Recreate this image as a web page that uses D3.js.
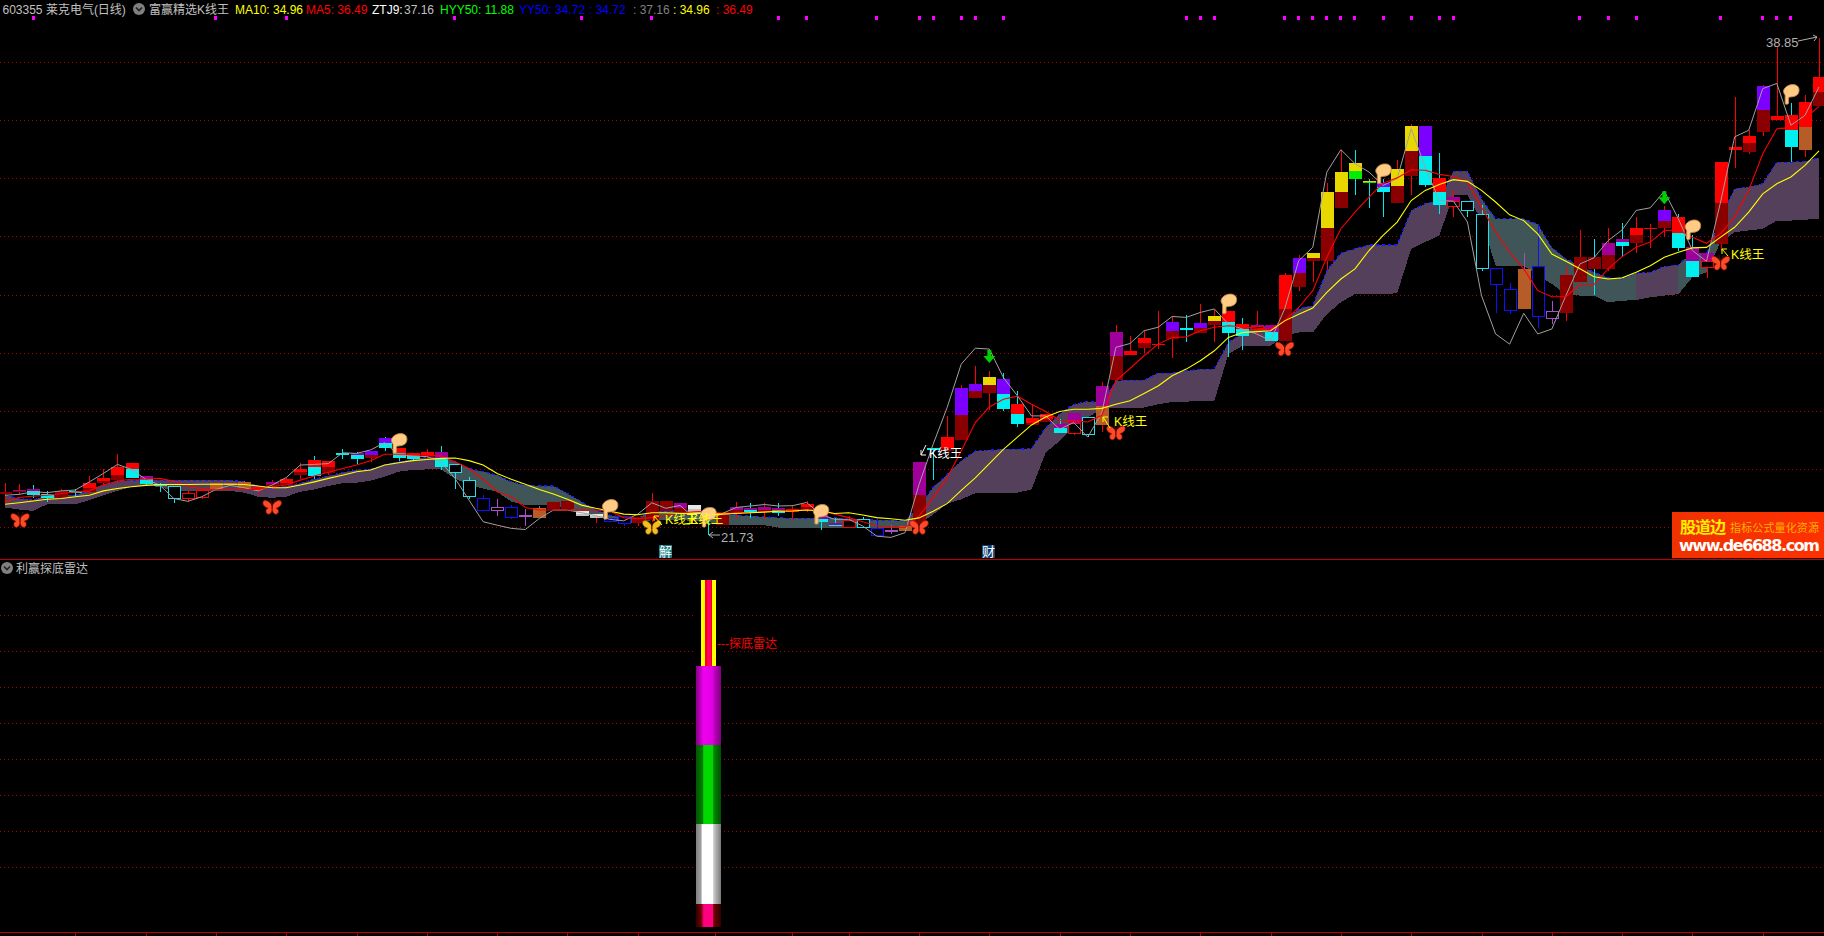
<!DOCTYPE html>
<html><head><meta charset="utf-8">
<script src="https://cdn.jsdelivr.net/npm/d3@7/dist/d3.min.js"></script>
<style>html,body{margin:0;padding:0;background:#000;overflow:hidden}svg{display:block}
text{font-family:"Liberation Sans","Noto Sans CJK SC",sans-serif}</style></head><body>
<svg id="c" width="1824" height="936"></svg>
<script>
// ---------- candle values, one entry per trading day ----------
const cTop=[23.21,23.29,23.32,23.15,23.26,23.26,23.52,23.69,24.09,24.22,
23.77,23.48,23.43,23.17,23.29,23.54,23.52,23.55,23.4,23.56,
23.67,24.01,24.32,24.29,24.55,24.55,24.63,25.08,24.74,24.55,
24.6,24.6,24.17,23.63,23.0,22.69,22.69,22.43,22.66,22.87,
22.91,22.57,22.46,22.34,22.39,22.37,22.91,22.91,22.83,22.77,
22.46,22.54,22.69,22.66,22.69,22.68,22.62,22.8,22.43,22.16,
22.25,22.28,22.0,21.91,22.05,24.25,24.75,25.11,26.8,26.94,
27.18,27.11,26.25,25.77,25.9,25.55,25.94,25.8,26.87,28.74,
28.08,28.52,28.32,29.08,28.86,29.05,29.29,29.46,29.01,28.98,
28.98,30.7,31.29,31.43,33.53,34.22,34.53,33.91,33.84,34.32,
35.8,35.8,34.01,33.36,33.22,32.8,30.94,30.22,30.91,31.01,
29.46,30.7,31.32,31.32,31.8,31.94,32.32,32.32,32.91,32.67,
31.64,31.43,34.56,35.08,35.46,37.18,36.15,36.18,36.63,37.49];
const cSplit=[23.19,23.25,23.25,23.15,23.2,23.23,23.36,23.61,23.8,24.02,
23.68,23.46,null,null,null,null,null,null,23.37,23.48,
23.52,23.9,24.09,24.07,24.53,24.51,24.48,24.9,24.55,24.46,
24.5,24.4,null,null,null,null,null,null,null,22.75,
22.77,22.48,22.4,null,null,22.26,22.55,22.74,22.68,22.62,
22.38,22.3,22.6,22.6,22.6,22.6,22.58,22.7,22.3,22.1,
null,null,null,null,null,23.11,24.72,24.75,25.87,26.7,
26.91,26.6,25.91,25.61,25.75,25.43,25.61,null,26.18,27.91,
28.0,28.36,28.3,28.77,28.82,28.86,29.11,29.08,28.84,28.94,
28.74,29.52,30.77,31.29,32.32,33.56,34.25,33.88,33.7,33.74,
34.94,34.8,33.56,33.25,null,null,null,null,null,null,
null,30.0,31.1,31.1,31.36,31.84,32.05,32.3,32.56,32.15,
31.18,31.18,33.15,35.03,35.22,36.36,36.08,35.67,35.77,36.98];
const cBot=[23.16,23.21,23.11,23.03,23.03,23.2,23.23,23.52,23.63,23.72,
23.49,23.45,23.02,22.99,23.06,23.34,23.46,23.36,23.34,23.43,
23.46,23.8,23.77,23.86,24.51,24.36,24.4,24.75,24.4,24.36,
24.44,24.07,23.89,23.08,22.57,22.57,22.34,22.39,22.34,22.63,
22.63,22.39,22.34,22.23,22.14,22.16,22.25,22.57,22.54,22.48,
22.31,22.08,22.52,22.51,22.54,22.51,22.54,22.62,22.2,22.05,
22.02,22.02,21.77,21.86,21.89,22.02,24.68,24.63,25.01,26.46,
26.63,26.08,25.56,25.54,25.63,25.25,25.26,25.23,25.54,27.08,
27.94,28.18,28.29,28.49,28.78,28.7,28.98,28.68,28.6,28.83,
28.43,28.43,30.29,31.18,31.18,32.98,33.98,33.85,33.53,33.15,
34.08,33.8,33.11,33.08,32.92,30.94,30.39,29.49,29.53,29.29,
29.22,29.39,30.46,30.91,30.91,31.7,31.8,32.29,32.29,31.63,
30.63,30.98,31.77,34.99,34.91,35.6,36.01,35.08,34.98,36.49];
const cHigh=[23.54,23.49,23.46,23.25,23.31,23.32,23.77,24.0,24.53,24.22,
23.77,23.52,23.43,23.29,23.34,23.54,23.52,23.6,23.44,23.63,
23.69,24.21,24.46,24.29,24.69,24.61,24.63,25.13,24.74,24.55,
24.7,24.8,24.17,23.75,23.11,22.97,22.77,22.62,22.74,22.87,
22.91,22.66,22.5,22.34,22.39,22.37,23.17,22.91,22.83,22.77,
22.6,22.54,22.89,22.83,22.83,22.83,22.77,22.91,22.6,22.33,
22.39,22.37,22.31,22.08,22.05,24.25,24.75,25.84,26.9,27.56,
27.39,27.33,26.7,26.26,25.9,25.72,25.94,25.8,27.01,28.98,
28.6,28.77,29.46,29.29,29.32,29.7,29.48,29.46,29.22,29.44,
28.98,30.75,31.36,31.43,33.87,34.98,35.0,33.98,33.98,34.63,
35.87,35.8,34.87,33.6,33.25,33.11,30.94,30.43,31.43,32.46,
29.8,30.98,32.22,31.91,32.32,32.49,32.67,32.43,33.05,32.8,
32.05,31.43,34.56,36.8,35.67,37.22,38.54,36.6,36.87,38.85];
const cLow=[22.83,23.11,23.0,22.88,23.0,23.1,23.15,23.43,23.52,23.72,
23.46,23.23,22.85,22.88,22.97,23.34,23.46,23.36,23.11,23.34,
23.46,23.66,23.66,23.8,24.34,24.17,24.26,24.63,24.29,24.3,
24.38,23.98,23.34,22.97,22.57,22.39,22.28,22.05,22.34,22.63,
22.63,22.39,22.16,22.23,22.05,22.05,22.2,22.57,22.54,22.48,
21.73,22.08,22.33,22.33,22.28,22.4,22.22,22.54,21.93,22.05,
22.02,22.02,21.77,21.77,21.89,22.02,23.63,24.63,25.01,26.46,
26.03,26.01,25.46,25.54,25.63,25.25,25.2,25.11,25.29,27.08,
27.94,28.0,28.14,27.83,28.37,28.7,28.37,27.87,28.11,28.54,
28.43,28.43,30.15,30.46,30.87,32.98,33.43,33.01,32.67,33.15,
33.43,33.7,32.8,32.7,32.7,30.84,29.39,29.36,29.53,28.87,
29.01,29.11,30.46,30.01,30.84,31.32,31.43,31.63,31.99,31.53,
30.63,30.6,31.53,34.36,34.84,35.46,36.01,34.56,34.74,36.49];
const cKind=["dd","md","mc","c","dd","c","rd","rd","rd","rc",
"mc","c","hc","hr","hr","o","o","o","r","md",
"rd","rd","rc","rd","c","mc","pd","pc","rc","rc",
"rd","mc","hc","hc","hb","hp","hb","hp","o","dd",
"dd","w","w","hb","hb","dd","dd","dd","md","w",
"c","dd","md","mc","md","mc","r","rd","mc","mc",
"hr","hc","hb","hp","o","md","c","rd","pd","pd",
"yd","pc","rc","rd","rd","mc","mr","hc","mo","md",
"r","rd","r","pd","c","pd","yd","rc","rc","mr",
"mc","rd","pd","yd","yd","yd","yg","yg","pc","yd",
"yd","pc","rc","mr","hc","hc","hb","hb","o","hb",
"hp","dd","dd","dc","md","mc","rd","r","pd","rc",
"mc","mr","rd","r","rd","pd","r","rc","ro","rd"];
// ---------- line series ----------
const ztj9=[23.11,23.14,23.23,23.2,23.26,23.29,23.57,23.86,24.17,24.0,
23.66,23.46,23.0,22.9,23.06,23.31,23.45,23.37,23.26,23.46,
23.72,24.15,24.17,24.2,24.57,24.55,24.67,24.92,24.49,24.46,
24.44,24.26,23.69,22.94,22.2,22.08,21.97,21.93,22.31,22.6,
22.6,22.51,22.41,22.28,22.23,22.46,22.85,22.66,22.76,22.34,
22.25,22.48,22.69,22.74,22.79,22.74,22.75,22.86,22.46,22.28,
22.28,22.05,21.7,21.66,21.82,23.48,24.86,26.13,27.62,28.17,
28.14,27.16,26.53,25.84,25.84,25.38,25.61,25.11,25.95,28.2,
28.33,28.77,28.89,29.26,29.23,29.4,29.52,29.0,28.83,28.66,
28.43,29.52,31.18,31.64,34.23,35.0,34.52,34.23,33.77,34.0,
35.72,34.4,33.25,33.23,32.51,29.98,28.66,28.31,29.37,28.66,
28.83,29.98,31.07,31.28,31.87,32.24,32.91,33.0,33.57,32.62,
31.53,31.16,33.2,35.44,35.67,37.1,37.28,35.84,36.18,37.16];
const ma5=[22.88,23.03,23.08,23.11,23.17,23.22,23.26,23.46,23.6,23.66,
23.66,23.69,23.59,23.43,23.33,23.29,23.31,23.31,23.31,23.4,
23.46,23.63,23.77,23.9,24.03,24.15,24.3,24.52,24.52,24.53,
24.49,24.46,24.26,24.03,23.66,23.23,23.06,22.69,22.6,22.6,
22.6,22.6,22.6,22.57,22.34,22.3,22.34,22.41,22.5,22.54,
22.57,22.46,22.52,22.51,22.55,22.57,22.6,22.61,22.6,22.46,
22.34,22.2,22.05,22.02,22.0,22.39,23.02,23.71,24.63,25.61,
26.15,26.41,26.52,26.24,25.99,25.69,25.67,25.63,25.86,27.05,
27.47,27.91,28.31,28.54,28.56,28.77,28.89,28.94,28.91,28.86,
28.83,29.11,29.57,30.15,31.3,32.28,32.85,33.37,33.85,34.03,
34.31,34.29,34.15,34.08,33.89,33.02,32.16,31.47,30.9,30.15,
29.94,29.94,30.36,30.36,30.9,31.32,31.64,31.82,32.22,32.24,
31.99,31.78,32.11,32.68,33.6,34.86,35.72,35.76,36.07,36.49];
const ma10=[22.8,22.85,22.91,22.97,23.0,23.06,23.11,23.26,23.34,23.4,
23.45,23.48,23.48,23.48,23.49,23.49,23.49,23.48,23.43,23.37,
23.37,23.46,23.57,23.69,23.8,23.92,23.98,24.15,24.23,24.3,
24.34,24.38,24.39,24.3,24.15,23.86,23.66,23.49,23.31,23.15,
22.97,22.77,22.66,22.57,22.46,22.44,22.51,22.51,22.48,22.48,
22.48,22.46,22.48,22.51,22.53,22.56,22.57,22.6,22.57,22.48,
22.51,22.43,22.34,22.3,22.25,22.33,22.56,22.82,23.28,23.71,
24.2,24.69,25.11,25.53,25.8,25.99,26.07,26.07,26.1,26.24,
26.36,26.61,26.87,27.22,27.45,27.74,28.08,28.54,28.71,28.74,
28.77,29.11,29.34,29.55,30.09,30.55,30.9,31.53,32.05,32.51,
33.25,33.6,33.8,33.97,33.91,33.6,33.2,32.76,32.56,32.1,
31.41,31.16,30.9,30.63,30.55,30.59,30.78,31.01,31.3,31.47,
31.62,31.64,31.99,32.33,32.85,33.48,33.83,34.06,34.46,34.96];
const yy50=[23.11,23.0,22.94,23.1,23.11,23.11,23.29,23.46,23.59,23.63,
23.63,23.63,23.63,23.63,23.63,23.63,23.63,23.57,23.43,23.34,
23.43,23.52,23.66,23.77,23.89,23.98,24.0,24.15,24.26,24.34,
24.41,24.41,24.26,24.03,23.92,23.8,23.57,23.46,23.43,23.43,
23.17,22.89,22.6,22.43,22.34,22.31,22.57,22.57,22.57,22.57,
22.54,22.46,22.43,22.39,22.37,22.34,22.31,22.31,22.31,22.34,
22.28,22.28,22.25,22.25,22.22,22.74,23.37,23.83,24.29,24.63,
24.66,24.69,24.69,24.72,25.44,25.9,26.24,26.33,26.3,27.05,
27.07,27.07,27.31,27.31,27.39,27.44,27.45,28.37,28.66,28.98,
28.89,29.11,29.52,29.63,30.84,31.44,31.59,31.72,31.72,31.72,
32.91,33.14,33.25,34.26,34.26,33.31,32.62,32.62,32.62,32.43,
31.64,31.24,31.01,30.78,30.59,30.55,30.75,30.78,30.98,31.03,
31.47,31.41,32.68,33.66,33.71,33.83,34.57,34.57,34.6,34.72];
const hyyLow=[22.69,22.62,22.57,22.8,22.8,22.8,22.94,23.11,23.26,23.4,
23.43,23.4,23.25,23.25,23.25,23.25,23.26,23.2,23.06,23.02,
23.06,23.23,23.31,23.43,23.52,23.54,23.61,23.75,23.92,23.98,
24.0,24.0,23.69,23.46,23.34,23.23,22.89,22.77,22.77,22.77,
22.66,22.48,22.39,22.31,22.16,22.16,22.25,22.25,22.25,22.23,
22.2,22.08,22.08,22.08,22.08,22.0,22.0,22.0,22.0,22.0,
22.0,22.0,22.0,22.0,21.99,22.1,22.45,22.82,22.97,23.18,
23.18,23.18,23.2,23.31,24.57,24.98,25.44,25.78,26.1,26.1,
26.1,26.13,26.24,26.32,26.33,26.36,26.36,27.97,28.25,28.25,
28.25,28.6,28.71,28.71,29.34,29.75,30.03,30.03,30.03,30.06,
31.59,31.82,32.05,33.43,33.43,32.56,31.01,31.01,31.01,30.67,
30.38,30.03,29.98,29.98,29.75,29.8,29.83,29.92,29.98,30.03,
30.61,30.78,31.82,32.16,32.22,32.28,32.56,32.56,32.59,32.62];
const tealSpans=[[31,64],[105,116],[119,122]];
// ---------- signal markers ----------
const signalDots=[2,15,20,32,41,46,55,57,62,65,66,68,69,71,84,85,86,91,92,93,94,95,96,98,100,102,103,112,114,116,122,125,126,127];
const fingerIdx=[28,43,50,58,87,98,120,127];
const fingerPrice=[24.9,22.63,22.36,22.46,29.7,34.18,32.25,36.91];
const butterflyIdx=[1,19,46,65,79,91,122];
const butterflyPrice=[22.25,22.7,22.01,22.01,25.26,28.15,31.1];
const arrowIdx=[70,118];
const arrowPrice=[27.87,33.33];
const priceGrid=[38,36,34,32,30,28,26,24,22];
const axisTicks=[5,10,15,20,25,30,35,40,45,50.5,56,60,65,70,75,80,85,90,95,100,105,110,115,120,125];
// radar panel
const radarGrid=[1,2,3,4,5,6,7,8];
const radarBands=[[-0.64,0],[0,2.2],[2.2,4.4],[4.4,6.6],[6.6,9]];
// header
const header=[["603355 莱克电气(日线)",2.5,"#c0c0c0"],["富赢精选K线王",149,"#c0c0c0"],
["MA10: 34.96",235,"#ffff00"],["MA5: 36.49",306,"#ff0000"],["ZTJ9:",372,"#ffffff"],["37.16",404,"#c0c0c0"],
["HYY50: 11.88",440,"#00ff00"],["YY50: 34.72",519,"#0000ff"],[": 34.72",589,"#0000ff"],[": 37.16",633,"#808080"],[": 34.96",673,"#ffff00"],[": 36.49",716,"#ff0000"]];

const kinds={
 dd:{t:"#8e0000",b:"#8a0000",w:"#ff0000"}, rd:{t:"#ff0000",b:"#8a0000",w:"#ff0000"},
 pd:{t:"#7b00ff",b:"#8a0000",w:"#ff0000"}, yd:{t:"#e8d800",b:"#8a0000",w:"#ff0000"},
 yg:{t:"#e8d800",b:"#00ee00",w:"#00e8f0"}, md:{t:"#a0009a",b:"#8a0000",w:"#ff0000"},
 mc:{t:"#a0009a",b:"#00f0f0",w:"#00e8f0"}, pc:{t:"#7b00ff",b:"#00f0f0",w:"#00e8f0"},
 rc:{t:"#ff0000",b:"#00f0f0",w:"#00e8f0"}, c:{t:"#00f0f0",b:"#00f0f0",w:"#00e8f0"},
 r:{t:"#ff0000",b:"#ff0000",w:"#ff0000"}, dc:{t:"#8e0000",b:"#8a0000",w:"#00e8f0"},
 o:{t:"#b55c28",b:"#b55c28",w:"#a050c0"}, mo:{t:"#a0009a",b:"#b55c28",w:"#ff0000"},
 ro:{t:"#ff0000",b:"#b55c28",w:"#ff0000"}, w:{t:"#e8e8e8",b:"#c0c0c0",w:"#ff0000"},
 mr:{t:"#a0009a",h:"#ff0000",w:"#ff0000"},
 hc:{h:"#20e0f0",w:"#20e0f0"}, hr:{h:"#ff0000",w:"#ff0000"}, hb:{h:"#1010ff",w:"#1010ff"}, hp:{h:"#a850c8",w:"#a850c8"}
};

const svg=d3.select("#c");
svg.append("rect").attr("width",1824).attr("height",936).attr("fill","#000");
const defs=svg.append("defs");
const x=d3.scaleLinear().domain([0,129]).range([5,1819]);
const y=d3.scaleLinear().domain([38,22]).range([62.5,527.5]);
const y2=d3.scaleLinear().domain([0,8]).range([903.5,615.5]);
const idx=d3.range(130);

// grid
svg.append("g").selectAll("line").data(priceGrid).join("line")
 .attr("x1",0).attr("x2",1824).attr("y1",d=>Math.floor(y(d))+.5).attr("y2",d=>Math.floor(y(d))+.5)
 .attr("stroke","#b00000").attr("stroke-dasharray","1 3");
const g2=svg.append("g");
[[0,693],[724,1824]].forEach(s=>g2.append("g").selectAll("line").data(radarGrid).join("line")
 .attr("x1",s[0]).attr("x2",s[1]).attr("y1",d=>y2(d)).attr("y2",d=>y2(d))
 .attr("stroke","#b00000").attr("stroke-dasharray","1 3"));

// cloud
const isTeal=i=>tealSpans.some(s=>i>=s[0]&&i<s[1]);
let runs=[],st=0;
for(let i=1;i<=129;i++){ if(i===129||isTeal(i)!==isTeal(st)){runs.push([st,i,isTeal(st)]);st=i;} }
const area=d3.area().x(i=>x(i)).y0(i=>y(hyyLow[i])).y1(i=>y(yy50[i]));
const cl=svg.append("g").attr("shape-rendering","crispEdges");
runs.forEach(r=>cl.append("path").attr("d",area(d3.range(r[0],r[1]+1))).attr("fill",r[2]?"#3f5558":"#54405a"));
svg.append("path").attr("d",d3.line().x(i=>x(i)).y(i=>y(yy50[i]))(idx))
 .attr("fill","none").attr("stroke","#1a1aff").attr("stroke-width",1.2).attr("stroke-dasharray","3 3").attr("shape-rendering","crispEdges");

// candles
const bw=13;
const cg=svg.append("g").attr("shape-rendering","crispEdges");
const px=i=>Math.round(x(i));
cg.selectAll(".wick").data(idx).join("line").attr("class","wick")
 .attr("x1",i=>px(i)+.5).attr("x2",i=>px(i)+.5).attr("y1",i=>y(cHigh[i])).attr("y2",i=>y(cLow[i]))
 .attr("stroke",i=>kinds[cKind[i]].w);
idx.forEach(i=>{
 const k=kinds[cKind[i]],l=px(i)-6,t=y(cTop[i]),b=y(cBot[i]),s=cSplit[i]==null?b:y(cSplit[i]);
 if(k.h&&!k.t){cg.append("rect").attr("x",l+.5).attr("y",Math.round(t)+.5).attr("width",bw-1).attr("height",Math.max(1,Math.round(b-t))).attr("fill","#000").attr("stroke",k.h);}
 else{
  cg.append("rect").attr("x",l).attr("y",t).attr("width",bw).attr("height",Math.max(1.5,s-t)).attr("fill",k.t);
  if(b>s){ if(k.h) cg.append("rect").attr("x",l+.5).attr("y",Math.round(s)+.5).attr("width",bw-1).attr("height",Math.max(1,Math.round(b-s))).attr("fill","#000").attr("stroke",k.h);
   else cg.append("rect").attr("x",l).attr("y",s).attr("width",bw).attr("height",b-s).attr("fill",k.b); }
 }
});

// lines
const line=a=>d3.line().x((d,i)=>x(i)).y(d=>y(d))(a);
svg.append("path").attr("d",line(ztj9)).attr("fill","none").attr("stroke","#a0a0a0").attr("stroke-width",1);
svg.append("path").attr("d",line(ma5)).attr("fill","none").attr("stroke","#ff0000").attr("stroke-width",1.1);
svg.append("path").attr("d",line(ma10)).attr("fill","none").attr("stroke","#ffff00").attr("stroke-width",1.1);

// signal dots
svg.append("g").attr("shape-rendering","crispEdges").selectAll("rect").data(signalDots).join("rect")
 .attr("x",i=>x(i)-1.5).attr("y",16).attr("width",3).attr("height",4).attr("fill","#ff00ff");

// icons
const wing="M0,-1 C-2,-6 -8,-8 -9,-5.5 C-10,-2 -7,0 -4,1 C-7,2 -7,7 -3.5,7 C-1,7 0,3 0,0Z";
butterflyIdx.forEach((i,n)=>{
 const col=i===46?"#f0c020":"#ff4a2a",edge=i===46?"#a06000":"#b01800";
 const g=svg.append("g").attr("transform",`translate(${x(i)+(i===1?1:0)},${y(butterflyPrice[n])})`);
 g.append("path").attr("d",wing).attr("fill",col).attr("stroke",edge).attr("stroke-width",.7);
 g.append("path").attr("d",wing).attr("transform","scale(-1,1)").attr("fill",col).attr("stroke",edge).attr("stroke-width",.7);
 g.append("path").attr("d","M0,2 L0,-3 M0,-2 L-2,-8 M0,-2 L3,-8").attr("stroke","#501000").attr("fill","none");
});
fingerIdx.forEach((i,n)=>{
 const g=svg.append("g").attr("transform",`translate(${x(i)},${y(fingerPrice[n])}) scale(1.15)`);
 g.append("path").attr("d","M-6,-4 C-4,-8 1,-9 4,-8 C8,-7 8,-1 5,1 C2,3 -1,2 -2,3 L-2,8 C-3,9 -5,9 -5,8 L-5,1 C-6,-1 -7,-2 -6,-4Z")
  .attr("fill","#ffcb85").attr("stroke","#c08848").attr("stroke-width",.8);
});
arrowIdx.forEach((i,n)=>{
 svg.append("path").attr("transform",`translate(${x(i)},${y(arrowPrice[n])})`)
  .attr("d","M-2,-7 H2 V-1 H6 L0,6 L-6,-1 H-2Z").attr("fill","#00d000");
});

// K线王 labels
function klabel(tx,ty,col,ax1,ay1,ax2,ay2){
 svg.append("text").attr("x",tx).attr("y",ty).attr("fill",col).attr("font-size",12.5).text("K线王");
 svg.append("path").attr("d",`M${ax1},${ay1} L${ax2},${ay2} M${ax2},${ay2} l0,${ay1>ay2?5:-5} M${ax2},${ay2} l${ax1>ax2?5:-5},0`)
  .attr("stroke",col).attr("fill","none");
}
klabel(929,458,"#ffffff",926,445,921,455);
klabel(1114,426,"#ffff00",1110,428,1103,417);
klabel(1731,259,"#ffff00",1728,256,1722,249);
klabel(665,524,"#ffff00",662,525,654,516);
klabel(690,524,"#ffff00",690,524,690,524);

// low/high labels
svg.append("text").attr("x",721).attr("y",542).attr("fill","#b0b0b0").attr("font-size",13).text("21.73");
svg.append("path").attr("d","M720,535 H709 M709,535 l4,-3 M709,535 l4,3").attr("stroke","#b0b0b0").attr("fill","none");
svg.append("text").attr("x",1766).attr("y",47).attr("fill","#b0b0b0").attr("font-size",13).text("38.85");
svg.append("path").attr("d","M1798,41 L1817,37 M1817,37 l-4,-2 M1817,37 l-3,4").attr("stroke","#b0b0b0").attr("fill","none");

// 解 / 财 badges
[["解",659,"#0f7a80"],["财",982,"#0f3d70"]].forEach(b=>{
 svg.append("rect").attr("x",b[1]).attr("y",545).attr("width",13).attr("height",13).attr("fill",b[2]);
 svg.append("text").attr("x",b[1]+6.5).attr("y",556).attr("text-anchor","middle").attr("fill","#fff").attr("font-size",13).text(b[0]);
});

// panel frames
svg.append("line").attr("x1",0).attr("x2",1824).attr("y1",559.5).attr("y2",559.5).attr("stroke","#c00000");
const axis=d3.axisBottom(x).tickValues(axisTicks).tickSize(3).tickFormat("");
const ag=svg.append("g").attr("transform","translate(0,932.5)").attr("shape-rendering","crispEdges").call(axis);
ag.select(".domain").remove();
ag.selectAll("line").attr("stroke","#c00000");
svg.append("line").attr("x1",0).attr("x2",1824).attr("y1",932.5).attr("y2",932.5).attr("stroke","#c00000");

// radar tower
function grad(id,stops){
 const g=defs.append("linearGradient").attr("id",id);
 stops.forEach(s=>g.append("stop").attr("offset",s[0]).attr("stop-color",s[1]));
 return `url(#${id})`;
}
const tx=x(50)+.5;
const rg=svg.append("g").attr("shape-rendering","crispEdges");
const fills=[
 grad("g0",[[0,"#300000"],[.2,"#700000"],[.31,"#ff0080"],[.68,"#ff0080"],[.7,"#700000"],[1,"#300000"]]),
 grad("g1",[[0,"#808080"],[.2,"#a0a0a0"],[.24,"#ffffff"],[.68,"#ffffff"],[.7,"#c8c8c8"],[1,"#787878"]]),
 grad("g2",[[0,"#005800"],[.28,"#008000"],[.3,"#00d800"],[.68,"#00d800"],[.7,"#008800"],[1,"#005000"]]),
 grad("g3",[[0,"#880088"],[.22,"#d000d0"],[.3,"#f000f0"],[.66,"#e000e0"],[.72,"#c000c0"],[1,"#800080"]])
];
rg.selectAll(".band").data(radarBands.slice(0,4)).join("rect").attr("class","band")
 .attr("x",tx-12.5).attr("width",25).attr("y",d=>y2(d[1])).attr("height",d=>y2(d[0])-y2(d[1])).attr("fill",(d,i)=>fills[i]);
const towerTop=radarBands[4];
[[-7.5,15,"#ffff00"],[-3.5,7,"#ff0000"],[-1.5,4,"#ff0070"]].forEach(s=>rg.append("rect").attr("x",tx+s[0]).attr("width",s[1])
 .attr("y",y2(towerTop[1])).attr("height",y2(towerTop[0])-y2(towerTop[1])).attr("fill",s[2]));
svg.append("text").attr("x",717).attr("y",648).attr("fill","#ff0000").attr("font-size",12).text("---探底雷达");

// header
svg.append("g").selectAll("text").data(header).join("text")
 .attr("x",d=>d[1]).attr("y",14).attr("fill",d=>d[2]).attr("font-size",12).text(d=>d[0]);
function chevron(cx,cy){
 svg.append("circle").attr("cx",cx).attr("cy",cy).attr("r",6).attr("fill","#808080");
 svg.append("path").attr("d",`M${cx-3},${cy-1.5} L${cx},${cy+1.5} L${cx+3},${cy-1.5}`).attr("stroke","#202020").attr("stroke-width",1.6).attr("fill","none");
}
chevron(139,9); chevron(7,568);
svg.append("text").attr("x",16).attr("y",573).attr("fill","#c0c0c0").attr("font-size",12).text("利赢探底雷达");

// banner
const bg=defs.append("linearGradient").attr("id","ban").attr("x1",0).attr("x2",1).attr("y1",0).attr("y2",0);
bg.append("stop").attr("offset",0).attr("stop-color","#ee3300");
bg.append("stop").attr("offset",1).attr("stop-color","#ff3000");
svg.append("rect").attr("x",1672).attr("y",512).attr("width",152).attr("height",46).attr("fill","url(#ban)");
svg.append("text").attr("x",1680).attr("y",533).attr("fill","#ffee00").attr("font-size",16).attr("font-weight","bold").attr("textLength",46).text("股道边");
svg.append("text").attr("x",1730).attr("y",532).attr("fill","#ffb000").attr("font-size",11).attr("textLength",89).text("指标公式量化资源");
svg.append("text").attr("x",1679).attr("y",551).attr("fill","#ffffff").attr("font-size",16).attr("font-weight","bold").attr("textLength",141).attr("style",'font-family:"DejaVu Sans"').text("www.de6688.com");
</script></body></html>
